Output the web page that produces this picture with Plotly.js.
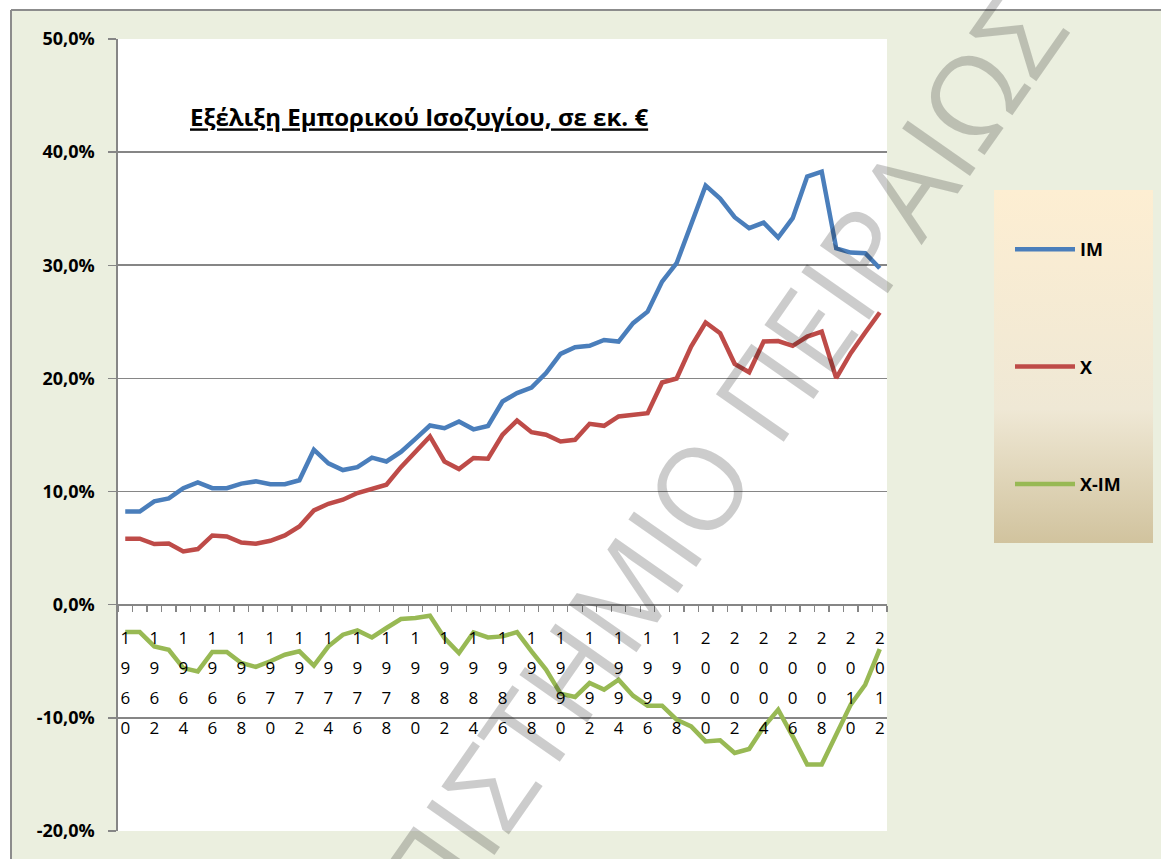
<!DOCTYPE html>
<html>
<head>
<meta charset="utf-8">
<script src="https://cdn.plot.ly/plotly-3.0.1.min.js"></script>
<style>
  html, body { margin: 0; padding: 0; background: #ffffff; }
  #chart { width: 1161px; height: 859px; }
</style>
</head>
<body>
<div id="chart"></div>
<script>
// years on the category axis
const years = ["1960","1961","1962","1963","1964","1965","1966","1967","1968","1969",
               "1970","1971","1972","1973","1974","1975","1976","1977","1978","1979",
               "1980","1981","1982","1983","1984","1985","1986","1987","1988","1989",
               "1990","1991","1992","1993","1994","1995","1996","1997","1998","1999",
               "2000","2001","2002","2003","2004","2005","2006","2007","2008","2009",
               "2010","2011","2012"];

// values in %
const imValues = [8.24, 8.24, 9.13, 9.40, 10.30, 10.80, 10.30, 10.30, 10.70, 10.90,
                  10.65, 10.65, 11.00, 13.70, 12.50, 11.90, 12.15, 13.00, 12.66, 13.50,
                  14.66, 15.84, 15.60, 16.20, 15.50, 15.80, 17.96, 18.70, 19.20, 20.47,
                  22.17, 22.76, 22.88, 23.40, 23.26, 24.88, 25.90, 28.56, 30.18, 33.57,
                  37.04, 35.90, 34.25, 33.28, 33.77, 32.45, 34.16, 37.84, 38.28, 31.50,
                  31.12, 31.07, 29.74];

const xValues = [5.83, 5.83, 5.36, 5.40, 4.71, 4.92, 6.12, 6.04, 5.50, 5.39,
                 5.65, 6.12, 6.92, 8.33, 8.92, 9.28, 9.87, 10.22, 10.60, 12.16,
                 13.49, 14.87, 12.66, 11.99, 12.96, 12.90, 15.02, 16.28, 15.25, 15.02,
                 14.43, 14.58, 15.99, 15.81, 16.64, 16.76, 16.93, 19.64, 19.99, 22.82,
                 24.94, 24.00, 21.29, 20.55, 23.26, 23.30, 22.88, 23.70, 24.14, 20.02,
                 22.23, 24.06, 25.83];

const balanceValues = [-2.42, -2.42, -3.68, -3.98, -5.60, -5.89, -4.18, -4.18, -5.15, -5.50,
                       -5.00, -4.42, -4.12, -5.39, -3.68, -2.65, -2.27, -2.89, -2.06, -1.27,
                       -1.18, -0.97, -2.94, -4.27, -2.45, -2.89, -2.80, -2.42, -4.12, -5.74,
                       -7.86, -8.16, -6.92, -7.50, -6.63, -8.04, -8.92, -8.92, -10.16, -10.75,
                       -12.08, -11.98, -13.10, -12.75, -10.80, -9.28, -11.63, -14.13, -14.13, -11.48,
                       -8.83, -7.07, -3.92];

const seriesNames = ["IM", "X", "X-IM"];
const seriesColors = ["#4A7EBB", "#BE4B48", "#98B954"];

// y ticks (plain hyphen, comma decimals as in the original)
const yTickVals = [-20, -10, 0, 10, 20, 30, 40, 50];
const yTickText = ["-20,0%", "-10,0%", "0,0%", "10,0%", "20,0%", "30,0%", "40,0%", "50,0%"];

const chartTitle = "Εξέλιξη Εμπορικού Ισοζυγίου, σε εκ. €";
const watermark = "ΠΑΝΕΠΙΣΤΗΜΙΟ ΠΕΙΡΑΙΩΣ";

const FONT = "'Open Sans', 'DejaVu Sans', sans-serif";
const GRID = "#868686";

// plot box in pixels
const W = 1161, H = 859;
const L = 118, R = 887, T = 39, B = 831;
function px(x) { return (x - L) / (R - L); }
function py(y) { return (B - y) / (B - T); }

// every second year as stacked digits, the others blank
function stackedLabel(year, i) {
  if (i % 2 !== 0) return "";
  return year.split("").map(d => '<span style="font-size:17px">' + d + '</span>').join("<br>");
}

function legendBackground() {
  const svg = "<svg xmlns='http://www.w3.org/2000/svg' width='160' height='353' preserveAspectRatio='none'>" +
    "<defs><linearGradient id='g' x1='0' y1='0' x2='0' y2='1'>" +
    "<stop offset='0' stop-color='#FDEED2'/>" +
    "<stop offset='0.62' stop-color='#EFE8D5'/>" +
    "<stop offset='1' stop-color='#D1C39E'/>" +
    "</linearGradient></defs><rect width='160' height='353' fill='url(#g)'/></svg>";
  return "data:image/svg+xml;charset=utf-8," + encodeURIComponent(svg);
}

function drawChart() {
  const allValues = [imValues, xValues, balanceValues];
  const traces = allValues.map((vals, k) => ({
    x: years,
    y: vals,
    type: "scatter",
    mode: "lines",
    name: "<b>" + seriesNames[k] + "</b>",
    legendgroup: seriesNames[k],
    line: { color: seriesColors[k], width: 4.5 },
    hoverinfo: "skip"
  }));

  const layout = {
    width: W,
    height: H,
    margin: { l: L, r: W - R, t: T, b: H - B },
    paper_bgcolor: "#EBEFDF",
    plot_bgcolor: "#ffffff",
    font: { family: FONT, color: "#000000" },
    title: {
      text: "<b><u>" + chartTitle + "</u></b>",
      xref: "container", x: 190 / W, xanchor: "left",
      yref: "container", y: 1 - 118 / H, yanchor: "middle",
      font: { family: FONT, size: 24, color: "#000000" }
    },
    xaxis: {
      type: "category",
      range: [-0.5, 52.5],
      anchor: "free",
      position: 20 / 70,
      showgrid: false,
      zeroline: false,
      showline: true,
      linecolor: GRID,
      linewidth: 1.7,
      ticks: "outside",
      ticklen: 6,
      tickwidth: 1.3,
      tickcolor: GRID,
      tickson: "boundaries",
      tickmode: "array",
      tickvals: years,
      ticktext: years.map(stackedLabel),
      tickangle: 0,
      ticklabelstandoff: 10,
      tickfont: { family: FONT, size: 23, color: "#000000" },
      fixedrange: true
    },
    yaxis: {
      range: [-20, 50],
      tickmode: "array",
      tickvals: yTickVals,
      ticktext: yTickText,
      showgrid: true,
      gridcolor: GRID,
      gridwidth: 1.7,
      zeroline: false,
      showline: true,
      linecolor: GRID,
      linewidth: 1.7,
      ticks: "outside",
      ticklen: 8,
      tickcolor: GRID,
      tickwidth: 1.3,
      ticklabelstandoff: 10,
      tickfont: { family: FONT, size: 18, color: "#000000", weight: "bold" },
      fixedrange: true
    },
    showlegend: true,
    legend: {
      xref: "container", x: 1010 / W, xanchor: "left",
      yref: "container", y: 1 - 231 / H, yanchor: "top",
      bgcolor: "rgba(0,0,0,0)",
      borderwidth: 0,
      traceorder: "grouped",
      tracegroupgap: 91,
      itemwidth: 60,
      font: { family: FONT, size: 18, color: "#000000" }
    },
    images: [{
      source: legendBackground(),
      xref: "paper", yref: "paper",
      x: px(994), y: py(190),
      sizex: px(1153) - px(994), sizey: py(190) - py(543),
      xanchor: "left", yanchor: "top",
      sizing: "stretch",
      layer: "below"
    }],
    shapes: [
      // white strip above and left of the chart frame
      { type: "rect", xref: "paper", yref: "paper", layer: "below",
        x0: px(-5), x1: px(W + 5), y0: py(10), y1: py(-5),
        fillcolor: "#ffffff", line: { width: 0 } },
      { type: "rect", xref: "paper", yref: "paper", layer: "below",
        x0: px(-5), x1: px(11), y0: py(H + 5), y1: py(-5),
        fillcolor: "#ffffff", line: { width: 0 } },
      // frame border
      { type: "line", xref: "paper", yref: "paper", layer: "below",
        x0: px(11), x1: px(W + 5), y0: py(10), y1: py(10),
        line: { color: "#8C8C8C", width: 2 } },
      { type: "line", xref: "paper", yref: "paper", layer: "below",
        x0: px(11), x1: px(11), y0: py(10), y1: py(H + 5),
        line: { color: "#8C8C8C", width: 2 } }
    ],
    annotations: [{
      text: watermark,
      xref: "paper", yref: "paper",
      x: px(630), y: py(583),
      xanchor: "center", yanchor: "middle",
      textangle: -55,
      showarrow: false,
      font: { family: FONT, size: 116, color: "rgba(0,0,0,0.2)" }
    }]
  };

  Plotly.newPlot("chart", traces, layout, { displayModeBar: false, staticPlot: true });
}

document.addEventListener("DOMContentLoaded", drawChart);
</script>
</body>
</html>
